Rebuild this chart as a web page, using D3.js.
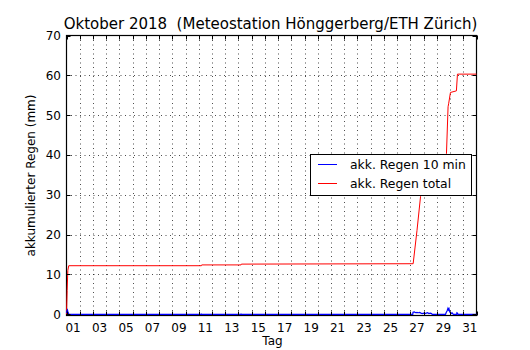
<!DOCTYPE html>
<html><head><meta charset="utf-8">
<script src="https://cdn.jsdelivr.net/npm/d3@7"></script>
<style>body{margin:0;background:#fff}svg{display:block}text{font-family:"DejaVu Sans",sans-serif}</style>
</head><body><svg id="c" width="530" height="350"></svg>
<script>
// ---- data ----
const titleText = "Oktober 2018  (Meteostation Hönggerberg/ETH Zürich)";
const xLabelText = "Tag";
const yLabelText = "akkumulierter Regen (mm)";
const seriesNames = ["akk. Regen 10 min", "akk. Regen total"];
const dayTickLabels = ["01","03","05","07","09","11","13","15","17","19","21","23","25","27","29","31"];
const yTicks = [0,10,20,30,40,50,60,70];
// 10-min rain (day offset since Oct 1 00:00, mm)
const rain10Time = [0, 0.035, 0.07, 0.10, 0.14, 0.18, 10.19, 10.2, 10.21, 13.19, 13.2, 13.21,
  26.18, 26.2, 26.3, 26.4, 26.5, 26.6, 26.7, 26.8, 26.9, 27.0, 27.1, 27.2, 27.3, 27.4, 27.5, 27.6, 27.65,
  28.66, 28.7, 28.78, 28.84, 28.88, 28.92, 28.96, 29.0, 29.05, 29.1, 29.15, 29.2, 29.25,
  29.5, 29.52, 29.56, 29.6, 31];
const rain10Value = [0.3, 0.9, 1.1, 0.7, 0.3, 0, 0, 0.2, 0, 0, 0.2, 0,
  0, 0.5, 0.6, 0.4, 0.5, 0.4, 0.5, 0.3, 0.2, 0.3, 0.2, 0.3, 0.4, 0.2, 0.3, 0.2, 0,
  0, 0.4, 0.9, 1.5, 1.1, 1.4, 0.8, 0.5, 0.3, 0.2, 0.4, 0.2, 0,
  0, 0.4, 0.3, 0, 0];
// accumulated total (mm)
const totalTime = [0, 0.05, 0.1, 0.17, 10.2, 10.22, 13.2, 13.22, 26.21, 26.5, 26.77, 27.0, 27.5, 28.0, 28.5, 28.73, 28.85, 28.9, 29.03, 29.48, 29.56, 31];
const totalValue = [0, 6, 11, 12.2, 12.2, 12.4, 12.4, 12.6, 12.7, 21, 29.6, 31, 33, 35, 37.5, 40.4, 52.1, 53, 55.7, 56.1, 60.3, 60.3];

// ---- layout ----
const svg = d3.select("#c");
const L = 66.5, R = 476.5, T = 35.5, B = 315.5;
const x = d3.scaleLinear().domain([0, 31]).range([L, R]);
const y = d3.scaleLinear().domain([-0.3, 70]).range([B, T]);

const g = svg.append("g");
// grid
const days = d3.range(1, 31);
g.selectAll(".vg").data(days).join("line")
  .attr("x1", d => Math.round(x(d)) + 0.5).attr("x2", d => Math.round(x(d)) + 0.5)
  .attr("y1", T).attr("y2", B)
  .attr("stroke", "#000").attr("stroke-width", 0.7).attr("stroke-dasharray", "1,3.5");
g.selectAll(".hg").data(yTicks.slice(1, -1)).join("line")
  .attr("x1", L).attr("x2", R)
  .attr("y1", d => Math.round(y(d)) + 0.5).attr("y2", d => Math.round(y(d)) + 0.5)
  .attr("stroke", "#000").attr("stroke-width", 0.7).attr("stroke-dasharray", "1,3.5");

// lines
const pts10 = rain10Time.map((t, i) => [t, rain10Value[i]]);
const ptsT = totalTime.map((t, i) => [t, totalValue[i]]);
const line = d3.line().x(d => x(d[0])).y(d => y(d[1]));

// frame
g.append("rect").attr("x", L).attr("y", T).attr("width", R - L).attr("height", B - T)
  .attr("fill", "none").attr("stroke", "#000").attr("stroke-width", 1.2);

g.append("path").datum(ptsT).attr("d", line).attr("fill", "none").attr("stroke", "red").attr("stroke-width", 1);
g.append("path").datum(pts10).attr("d", line).attr("fill", "none").attr("stroke", "blue").attr("stroke-width", 1.2);

// ticks inward
const tl = 4;
const allDays = d3.range(0, 32);
g.selectAll(".xtb").data(allDays).join("line")
  .attr("x1", d => Math.round(x(d)) + 0.5).attr("x2", d => Math.round(x(d)) + 0.5)
  .attr("y1", B).attr("y2", B - tl).attr("stroke", "#000");
g.selectAll(".xtt").data(allDays).join("line")
  .attr("x1", d => Math.round(x(d)) + 0.5).attr("x2", d => Math.round(x(d)) + 0.5)
  .attr("y1", T).attr("y2", T + tl).attr("stroke", "#000");
g.selectAll(".ytl").data(yTicks).join("line")
  .attr("x1", L).attr("x2", L + tl)
  .attr("y1", d => Math.round(y(d)) + 0.5).attr("y2", d => Math.round(y(d)) + 0.5).attr("stroke", "#000");
g.selectAll(".ytr").data(yTicks).join("line")
  .attr("x1", R).attr("x2", R - tl)
  .attr("y1", d => Math.round(y(d)) + 0.5).attr("y2", d => Math.round(y(d)) + 0.5).attr("stroke", "#000");

// tick labels
g.selectAll(".xl").data(dayTickLabels).join("text")
  .attr("x", d => x(+d - 0.5)).attr("y", B + 16.5)
  .attr("text-anchor", "middle").attr("font-size", 12).text(d => d);
g.selectAll(".yl").data(yTicks).join("text")
  .attr("x", L - 5.5).attr("y", d => y(d) + 4.5)
  .attr("text-anchor", "end").attr("font-size", 12).text(d => d);

// labels
svg.append("text").attr("x", (L + R) / 2 - 1).attr("y", 28.5).attr("text-anchor", "middle")
  .attr("font-size", 15).style("white-space", "pre").text(titleText);
svg.append("text").attr("x", (L + R) / 2 + 1).attr("y", 345).attr("text-anchor", "middle")
  .attr("font-size", 12).text(xLabelText);
svg.append("text").attr("transform", `translate(34.5,${(T + B) / 2}) rotate(-90)`)
  .attr("text-anchor", "middle").attr("font-size", 12).text(yLabelText);

// legend
const lg = svg.append("g");
lg.append("rect").attr("x", 310.5).attr("y", 154.5).attr("width", 161).attr("height", 41)
  .attr("fill", "#fff").attr("stroke", "#000").attr("stroke-width", 1);
const legColors = ["blue", "red"];
seriesNames.forEach((n, i) => {
  const yy = 164.5 + i * 19;
  lg.append("line").attr("x1", 318).attr("x2", 337).attr("y1", yy).attr("y2", yy)
    .attr("stroke", legColors[i]).attr("stroke-width", 1);
  lg.append("text").attr("x", 350).attr("y", yy + 4.5).attr("font-size", 12.4).text(n);
});
</script></body></html>
